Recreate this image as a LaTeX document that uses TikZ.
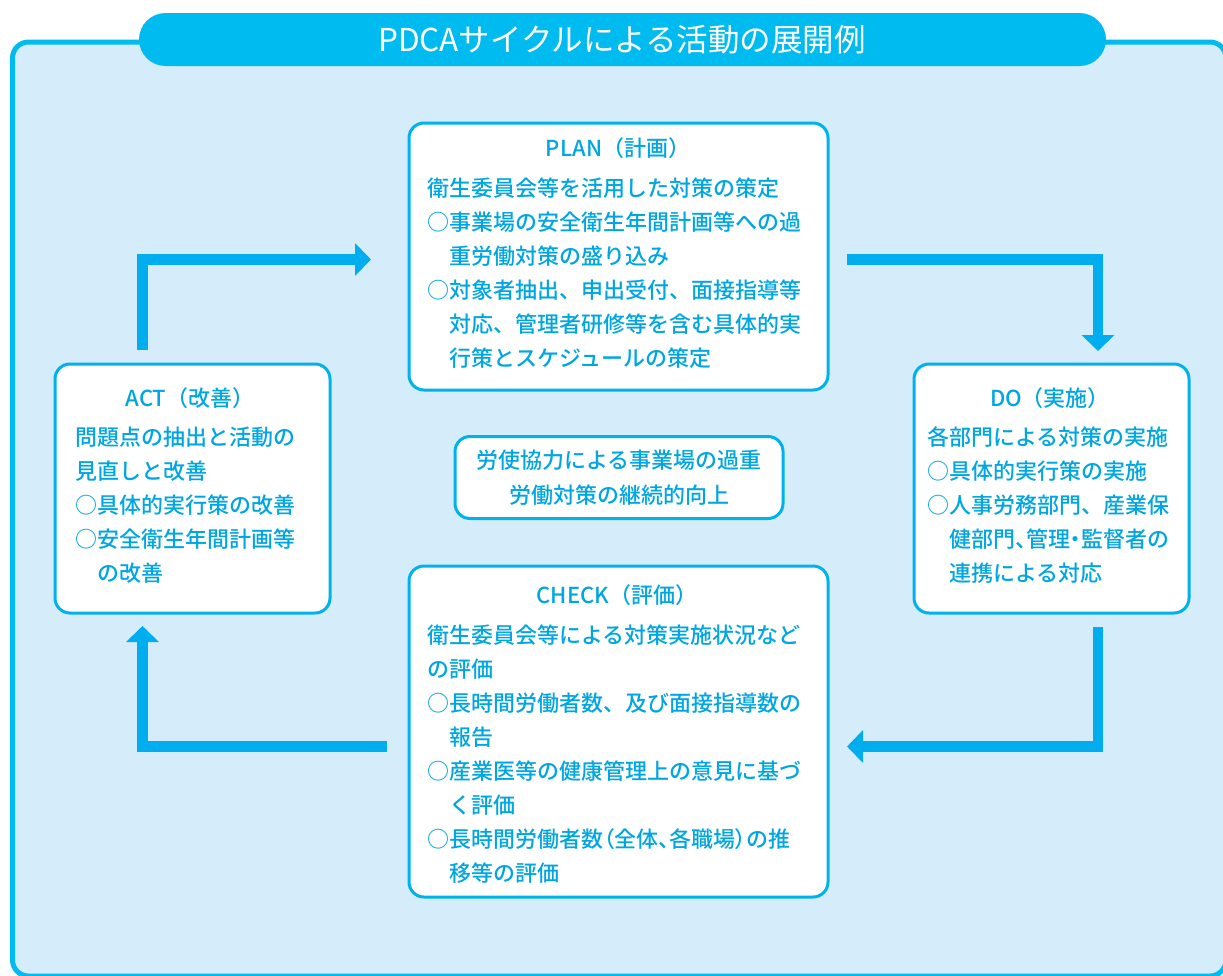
\documentclass[tikz,border=0pt]{standalone}
\usepackage{fontspec}
\newfontfamily\jpm{Noto Sans CJK JP Medium}
\newfontfamily\jpmp{Noto Sans CJK JP Medium}[RawFeature=+palt]
\newfontfamily\jpr{Noto Sans CJK JP}
\usetikzlibrary{arrows.meta}
\definecolor{cyanline}{RGB}{0,178,236}
\definecolor{cyanfill}{RGB}{0,187,240}
\definecolor{bgblue}{RGB}{213,236,250}
\definecolor{txtblue}{RGB}{0,166,225}
\definecolor{arrblue}{RGB}{0,174,239}
\newcommand{\fstrut}{\rule{0pt}{24pt}}
\newcommand{\ind}{\hspace*{22pt}}
\newcommand{\pn}[1]{{\jpmp #1}}
\begin{document}
\begin{tikzpicture}[x=1pt,y=-1pt,
  stagebox/.style={draw=cyanline, line width=3pt, fill=white, rounded corners=15pt, inner sep=0pt, outer sep=0pt},
  headtxt/.style={text=txtblue, font=\jpm\fontsize{22pt}{34pt}\selectfont, anchor=base, inner sep=0pt},
  bodytxt/.style={text=txtblue, font=\jpm\fontsize{22pt}{34pt}\selectfont, anchor=north west, align=left, inner sep=0pt},
  flow/.style={draw=arrblue, line width=10.5pt, -{Triangle[length=16pt, width=32pt]}}
]
\useasboundingbox (0,0) rectangle (1223,975);
\clip (0,0) rectangle (1223,975);

% outer frame
\draw[draw=cyanfill, line width=5pt, fill=bgblue, rounded corners=16pt] (12.5,42) rectangle (1226,976);

% title pill
\node[fill=cyanfill, rounded corners=26.5pt, minimum width=967pt, minimum height=53pt, inner sep=0pt] (title) at (622.5,39.5) {};
\node[text=white, font=\jpr\fontsize{31.5pt}{36pt}\selectfont, anchor=base, inner sep=0pt] (titletxt) at (622,51) {PDCAサイクルによる活動の展開例};

% stage boxes
\node[stagebox, minimum width=419pt, minimum height=267pt] (plan) at (618.5,256.5) {};
\node[stagebox, minimum width=275pt, minimum height=249pt] (act) at (192.5,488.5) {};
\node[stagebox, minimum width=275pt, minimum height=249pt] (do) at (1051.5,488.5) {};
\node[stagebox, minimum width=419pt, minimum height=331pt] (check) at (618.5,731.5) {};
\node[stagebox, minimum width=328pt, minimum height=82pt, align=center, text=txtblue,
      font=\jpm\fontsize{22pt}{35pt}\selectfont] (goal) at (619,477.5) {労使協力による事業場の過重\\労働対策の継続的向上};

% headers
\node[headtxt] (planhead) at (618,156) {PLAN（計画）};
\node[headtxt] (acthead) at (190,406) {ACT（改善）};
\node[headtxt] (dohead) at (1050,406) {DO（実施）};
\node[headtxt] (checkhead) at (617,603) {CHECK（評価）};

% bodies
\node[bodytxt] (planbody) at (427,172) {\fstrut{}衛生委員会等を活用した対策の策定\\
○事業場の安全衛生年間計画等への過\\
\ind{}重労働対策の盛り込み\\
○対象者抽出、申出受付、面接指導等\\
\ind{}対応、管理者研修等を含む具体的実\\
\ind{}行策とスケジュールの策定};

\node[bodytxt] (actbody) at (75,421) {\fstrut{}問題点の抽出と活動の\\
見直しと改善\\
○具体的実行策の改善\\
○安全衛生年間計画等\\
\ind{}の改善};

\node[bodytxt] (dobody) at (927,421) {\fstrut{}各部門による対策の実施\\
○具体的実行策の実施\\
○人事労務部門、産業保\\
\ind{}健部門\pn{、}管理\pn{・}監督者の\\
\ind{}連携による対応};

\node[bodytxt] (checkbody) at (427,619) {\fstrut{}衛生委員会等による対策実施状況など\\
の評価\\
○長時間労働者数、及び面接指導数の\\
\ind{}報告\\
○産業医等の健康管理上の意見に基づ\\
\ind{}く評価\\
○長時間労働者数\pn{（}全体\pn{、}各職場\pn{）}の推\\
\ind{}移等の評価};

% cycle arrows
\coordinate (a1s) at (142.5,350);
\coordinate (a1e) at (371,259.5);
\coordinate (a2s) at (847,259.5);
\coordinate (a2e) at (1098,351);
\coordinate (a3s) at (1098,627);
\coordinate (a3e) at (847,746.5);
\coordinate (a4s) at (387,746.5);
\coordinate (a4e) at (142.5,626);
\draw[flow] (a1s) |- (a1e);
\draw[flow] (a2s) -| (a2e);
\draw[flow] (a3s) |- (a3e);
\draw[flow] (a4s) -| (a4e);
\end{tikzpicture}
\end{document}
